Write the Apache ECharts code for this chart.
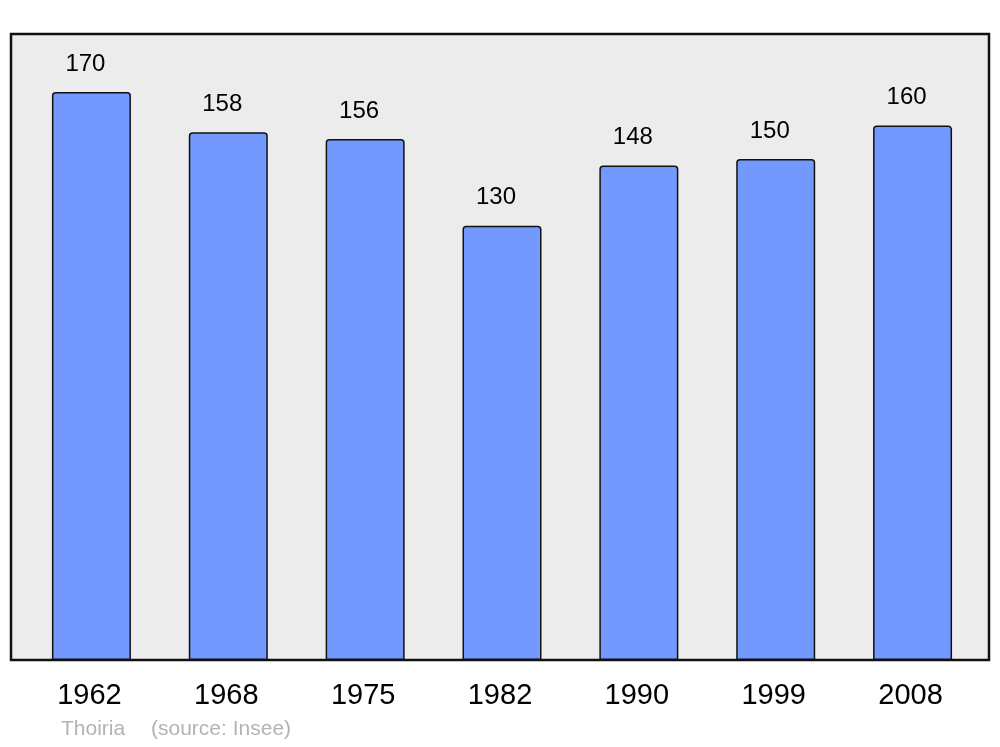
<!DOCTYPE html>
<html><head><meta charset="utf-8">
<script src="https://cdn.jsdelivr.net/npm/echarts@6/dist/echarts.min.js"></script>
<style>html,body{margin:0;padding:0;background:#fff}#c{width:1000px;height:747px}</style>
</head><body><div id="c"></div>
<script>
const years = ['1962','1968','1975','1982','1990','1999','2008'];
const population = [170,158,156,130,148,150,160];
const place = 'Thoiria';
const source = '(source: Insee)';

const chart = echarts.init(document.getElementById('c'), null, {renderer:'canvas'});
chart.setOption({
  animation:false,
  backgroundColor:'#ffffff',
  textStyle:{fontFamily:'Liberation Sans, Arial, sans-serif'},
  title:[
    {text:place, left:56, top:714, textStyle:{fontSize:21, fontWeight:'normal', color:'#b3b3b3', fontFamily:'Liberation Sans'}},
    {text:source, left:146, top:714, textStyle:{fontSize:21, fontWeight:'normal', color:'#b3b3b3', fontFamily:'Liberation Sans'}}
  ],
  grid:[
    {left:11, right:11, top:34, bottom:87, show:true, backgroundColor:'#ececec', borderColor:'#111111', borderWidth:2.5, z:0},
    {left:23, right:19, top:34, bottom:87}
  ],
  xAxis:[
    {gridIndex:0, type:'value', show:false, min:0, max:1},
    {gridIndex:1, type:'category', data:years, axisLine:{show:false}, axisTick:{show:false},
     axisLabel:{fontSize:29, color:'#000', margin:21, padding:[0,4,0,0], fontFamily:'Liberation Sans'}}
  ],
  yAxis:[
    {gridIndex:0, type:'value', show:false, min:0, max:1},
    {gridIndex:1, type:'value', min:0, max:187.4, show:false, splitLine:{show:false}}
  ],
  series:[{
    type:'bar', xAxisIndex:1, yAxisIndex:1, data:population, barWidth:79,
    itemStyle:{color:'#7399ff', borderColor:'#111', borderWidth:1.5, borderRadius:[3,3,0,0]},
    label:{show:true, position:'top', distance:16, offset:[-6,0], fontSize:24, color:'#000', fontFamily:'Liberation Sans'}
  }]
});
</script></body></html>
